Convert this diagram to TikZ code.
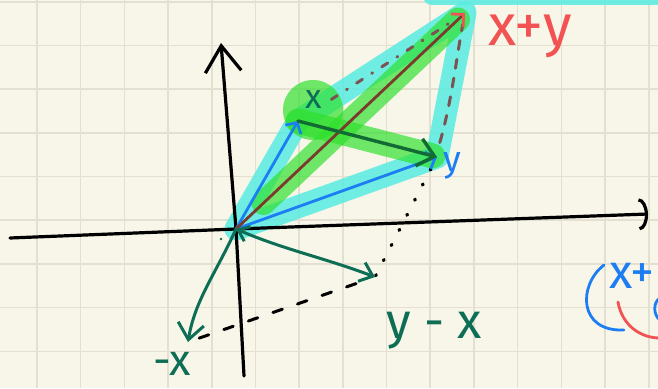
\documentclass[tikz,border=0pt]{standalone}
\usepackage{fontspec}
\setmainfont{Fira Sans}
\usepackage{tikz}
\usetikzlibrary{arrows.meta,calc}
\definecolor{Paper}{HTML}{F8F5E9}
\definecolor{GridLine}{HTML}{E3DFD1}
\definecolor{Marker}{HTML}{58ECE2}
\definecolor{Lime}{HTML}{2EE02A}
\definecolor{Blue}{HTML}{1C7EF2}
\definecolor{Teal}{HTML}{0D6E55}
\definecolor{Forest}{HTML}{116B33}
\definecolor{Rust}{HTML}{7A3B2E}
\definecolor{Salmon}{HTML}{F25252}
\definecolor{Mauve}{HTML}{7D5252}
\newcommand{\handsize}[1]{\fontsize{#1}{#1}\selectfont}

\begin{document}
\begin{tikzpicture}[x=1pt,y=-1pt,
    axis/.style={line width=3.2pt,line cap=round,black},
    band/.style={line width=23pt,line cap=round,line join=round},
    vec/.style={line width=2.8pt,line cap=round},
    lab/.style={inner sep=0pt}]
        \clip (0,0) rectangle (658,388);
        \fill[Paper] (0,0) rectangle (658,388);
        \foreach \i in {0,...,14}
          \draw[GridLine,line width=1.6pt] ({36.9+43.7*\i},0) -- ++(0,388);
        \foreach \j in {0,...,8}
          \draw[GridLine,line width=1.6pt] (0,{1.7+43.7*\j}) -- ++(658,0);
        % points
        \coordinate (O) at (236,229);
        \coordinate (X) at (298,121);
        \coordinate (Y) at (437,157);
        \coordinate (XY) at (465,13);
        \coordinate (NX) at (188,342);
        \coordinate (YX) at (375,277);
        \coordinate (xl) at (10,238);
        \coordinate (xr) at (648,214);
        \coordinate (yb) at (244,376);
        \coordinate (yt) at (221,43);
        % highlighter
        \draw[band,Marker,opacity=.85] (O) -- (X) -- (XY) -- (Y) -- cycle;
        \draw[band,Marker,opacity=.85,line width=18pt] (432,-4) -- (680,-4);
        \fill[Lime,opacity=.68] (313,110) circle (30pt);
        \draw[band,Lime,opacity=.68,line width=24pt] ($(O)!0.12!(XY)$) -- ($(O)!0.97!(XY)$);
        \draw[band,Lime,opacity=.68,line width=25pt] (X) -- ($(X)!0.97!(Y)$);
        % axes
        \draw[axis,-{Arc Barb[length=9pt,width=32pt]}] (xl) -- (O) -- (xr);
        \draw[axis,-{Straight Barb[length=26pt,width=36pt]}] (yb) -- (O) -- (yt);
        % dashed sides
        \draw[Mauve,line width=3pt,line cap=round,dash pattern=on 7pt off 11pt on 1pt off 11pt]
          ($(X)!0.2!(XY)$) -- ($(X)!0.95!(XY)$);
        \draw[Mauve,line width=3pt,line cap=round,dash pattern=on 9pt off 10pt]
          ($(Y)!0.1!(XY)$) .. controls (452,100) and (456,60) .. ($(Y)!0.92!(XY)$);
        \draw[black,line width=3pt,line cap=round,dash pattern=on 10pt off 16pt]
          ($(NX)!0.06!(YX)$) -- ($(NX)!0.92!(YX)$);
        \draw[black,line width=3.4pt,line cap=round,dash pattern=on 1pt off 16pt]
          ($(Y)!0.1!(YX)$) -- (YX);
        % vectors
        \draw[vec,Blue,-{Straight Barb[length=8pt,width=18pt]}] (O) -- (X);
        \draw[vec,Blue,-{Straight Barb[length=8pt,width=18pt]}] (O) -- (Y);
        \draw[vec,Rust,-{Straight Barb[length=9pt,width=18pt,color=Salmon]}] (O) -- (XY);
        \draw[vec,Forest,line width=3.4pt,-{Straight Barb[length=16pt,width=28pt]}] (X) -- (Y);
        \draw[vec,Teal,line width=3pt,-{Straight Barb[length=16pt,width=26pt]}]
          (O) .. controls (215,275) and (195,300) .. (NX);
        \draw[vec,Teal,line width=3pt,{Straight Barb[length=10pt,width=16pt]}-{Straight Barb[length=12pt,width=20pt]}]
          (O) .. controls (285,250) and (325,258) .. (YX);
        \fill[Teal] (221,239) circle (1.3pt);
        % labels
        \node[lab,text=Teal,font=\handsize{34}] (xlabel) at (314,100) {x};
        \node[lab,text=Blue,font=\handsize{36}] (ylabel) at (452,166) {y};
        \node[lab,text=Salmon,font=\handsize{58}] (sumlabel) at (530,36) {x+y};
        \node[lab,text=Teal,font=\handsize{44}] (neglabel) at (172,364) {-x};
        \node[lab,text=Teal,font=\handsize{50}] (difflabel) at (434,331) {y - x};
        \node[lab,text=Blue,font=\handsize{48}] (nextlabel) at (632,276) {x+};
        \draw[Blue,line width=2.8pt,line cap=round] (604,265) .. controls (578,285) and (578,332) .. (624,330);
        \draw[Salmon,line width=2.8pt,line cap=round] (618,302) .. controls (622,325) and (640,338) .. (660,338);
        \draw[Blue,line width=2.8pt,line cap=round] (660,298) .. controls (653,302) and (653,315) .. (660,320);
      \end{tikzpicture}
\end{document}
